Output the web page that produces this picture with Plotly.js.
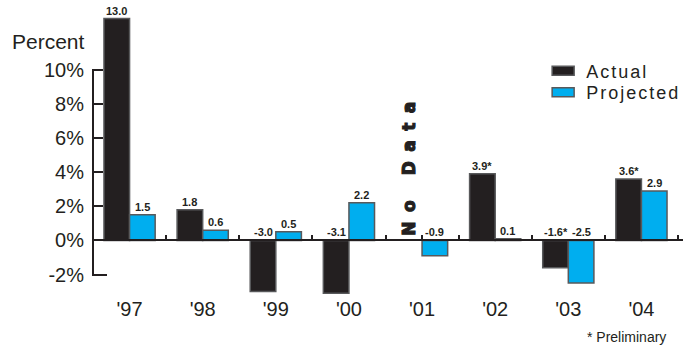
<!DOCTYPE html>
<html>
<head>
<meta charset="utf-8">
<script src="https://cdn.plot.ly/plotly-3.0.1.min.js"></script>
<style>
  html, body { margin: 0; padding: 0; background: #fff; }
  #chart { width: 696px; height: 347px; }
</style>
</head>
<body>
<div id="chart"></div>
<script>
// Annual change, actual vs projected (percent)
const years = ["'97", "'98", "'99", "'00", "'01", "'02", "'03", "'04"];
const actual = [13.0, 1.8, -3.0, -3.1, null, 3.9, -1.6, 3.6];
const projected = [1.5, 0.6, 0.5, 2.2, -0.9, 0.1, -2.5, 2.9];
const preliminary = [false, false, false, false, false, true, true, true];
const axisTicks = [-2, 0, 2, 4, 6, 8, 10];

const INK = '#231f20';
const BLUE = '#00aeef';
const OUTLINE = '#58595b';
const SANS = '"Liberation Sans", Arial, Helvetica, sans-serif';

const W = 696, H = 347;
const margin = { l: 93, r: 13, t: 10, b: 52 };
const plotW = W - margin.l - margin.r;
const plotH = H - margin.t - margin.b;

const yRange = [-3.2, 13.5];
const pxPerUnit = plotH / (yRange[1] - yRange[0]);
const BARGAP = 0.3;
const barW = (1 - BARGAP) / 2;          // width of one bar in category units

const fmt = (v, p) => v.toFixed(1) + (p ? '*' : '');
const idx = years.map((_, i) => i);

const traces = [
  {
    type: 'bar', name: '<span style="letter-spacing:2px">Actual</span>', x: years, y: actual,
    marker: { color: INK, line: { color: OUTLINE, width: 1.5 } },
    hoverinfo: 'x+y', legend: 'legend'
  },
  {
    type: 'bar', name: '<span style="letter-spacing:2px">Projected</span>', x: years, y: projected,
    marker: { color: BLUE, line: { color: OUTLINE, width: 1.5 } },
    hoverinfo: 'x+y', legend: 'legend2'
  }
];

// value labels sit above the bar top, or above the zero line for negatives
const labelFont = { family: SANS, size: 11, color: INK };
const annotations = [];
idx.forEach(i => {
  if (actual[i] !== null) {
    annotations.push({
      x: i - barW / 2, y: Math.max(actual[i], 0), xref: 'x', yref: 'y',
      text: '<b>' + fmt(actual[i], preliminary[i]) + '</b>',
      showarrow: false, yanchor: 'bottom', font: labelFont
    });
  } else {
    annotations.push({
      x: i - barW / 2, y: 0, xref: 'x', yref: 'y',
      text: '<b><span style="letter-spacing:9.5px;stroke:#231f20;stroke-width:1.1px">No Data</span></b>',
      textangle: -90, showarrow: false, yanchor: 'bottom', yshift: 3,
      font: { family: '"DejaVu Sans", sans-serif', size: 17, color: INK }
    });
  }
  annotations.push({
    x: i + barW / 2, y: Math.max(projected[i], 0), xref: 'x', yref: 'y',
    text: '<b>' + fmt(projected[i], false) + '</b>',
    showarrow: false, yanchor: 'bottom', font: labelFont
  });
});

annotations.push({
  x: 0, xref: 'paper', xanchor: 'right', xshift: -6,
  y: 0.888, yref: 'paper', yanchor: 'middle',
  text: 'Percent', showarrow: false,
  font: { family: SANS, size: 21, color: INK }
});
annotations.push({
  x: 0.983, xref: 'paper', xanchor: 'right',
  y: -0.147, yref: 'paper', yanchor: 'middle',
  text: '* Preliminary', showarrow: false,
  font: { family: SANS, size: 14, color: INK }
});

// solid rules drawn as filled annotation boxes
const ruleBox = (o) => Object.assign({
  text: ' ', showarrow: false, bgcolor: INK, borderpad: 0, borderwidth: 0,
  font: { size: 1, color: INK }
}, o);

// vertical rule over the labelled range
const yLo = axisTicks[0], yHi = axisTicks[axisTicks.length - 1];
annotations.push(ruleBox({
  xref: 'paper', x: 0, xanchor: 'center',
  yref: 'y', y: (yLo + yHi) / 2, yanchor: 'middle',
  width: 2, height: (yHi - yLo) * pxPerUnit + 2
}));
// ticks on the vertical rule, the lowest one a little longer
axisTicks.forEach((v, k) => annotations.push(ruleBox({
  xref: 'paper', x: 0, xanchor: 'left',
  yref: 'y', y: v, yanchor: 'middle',
  width: k === 0 ? 14 : 10, height: 2
})));
// zero rule across the plot
annotations.push(ruleBox({
  xref: 'paper', x: 0, xanchor: 'left',
  yref: 'y', y: 0, yanchor: 'middle',
  width: plotW, height: 2
}));
// short upward ticks at group boundaries and at any year without an actual value
const zeroTicks = idx.map(i => i + 0.5).concat(idx.filter(i => actual[i] === null));
zeroTicks.forEach(t => annotations.push(ruleBox({
  xref: 'x', x: t, xanchor: 'center',
  yref: 'y', y: 0, yanchor: 'bottom',
  width: 2, height: 5
})));

const layout = {
  width: W, height: H,
  margin: margin,
  paper_bgcolor: '#fff',
  plot_bgcolor: 'rgba(0,0,0,0)',
  barmode: 'group',
  bargap: BARGAP,
  bargroupgap: 0,
  font: { family: SANS, color: INK },
  xaxis: {
    type: 'category', range: [-0.5, years.length - 0.5],
    showline: false, ticks: '', showgrid: false, zeroline: false,
    tickfont: { family: SANS, size: 20, color: INK }
  },
  yaxis: {
    range: yRange,
    showline: false, showgrid: false, zeroline: false,
    ticks: 'inside', ticklen: 10, tickwidth: 2, tickcolor: INK,
    tickmode: 'array', tickvals: axisTicks, ticktext: axisTicks.map(v => v + '%'),
    tickfont: { family: SANS, size: 20, color: INK },
    ticklabelstandoff: 8
  },
  legend: {
    x: 0.7746, y: 0.786, xanchor: 'left', yanchor: 'middle',
    bgcolor: 'rgba(0,0,0,0)', font: { family: SANS, size: 18, color: INK }
  },
  legend2: {
    x: 0.7746, y: 0.7105, xanchor: 'left', yanchor: 'middle',
    bgcolor: 'rgba(0,0,0,0)', font: { family: SANS, size: 18, color: INK }
  },
  annotations: annotations,
  showlegend: true
};

// wide, flat legend swatches
function flattenSwatches(gd) {
  gd.querySelectorAll('.legendpoints path').forEach(p => p.setAttribute('d', 'M8,4.5H-14V-4.5H8Z'));
}

Plotly.newPlot('chart', traces, layout, { displayModeBar: false }).then(gd => {
  flattenSwatches(gd);
  gd.on('plotly_afterplot', () => flattenSwatches(gd));
});
</script>
</body>
</html>
